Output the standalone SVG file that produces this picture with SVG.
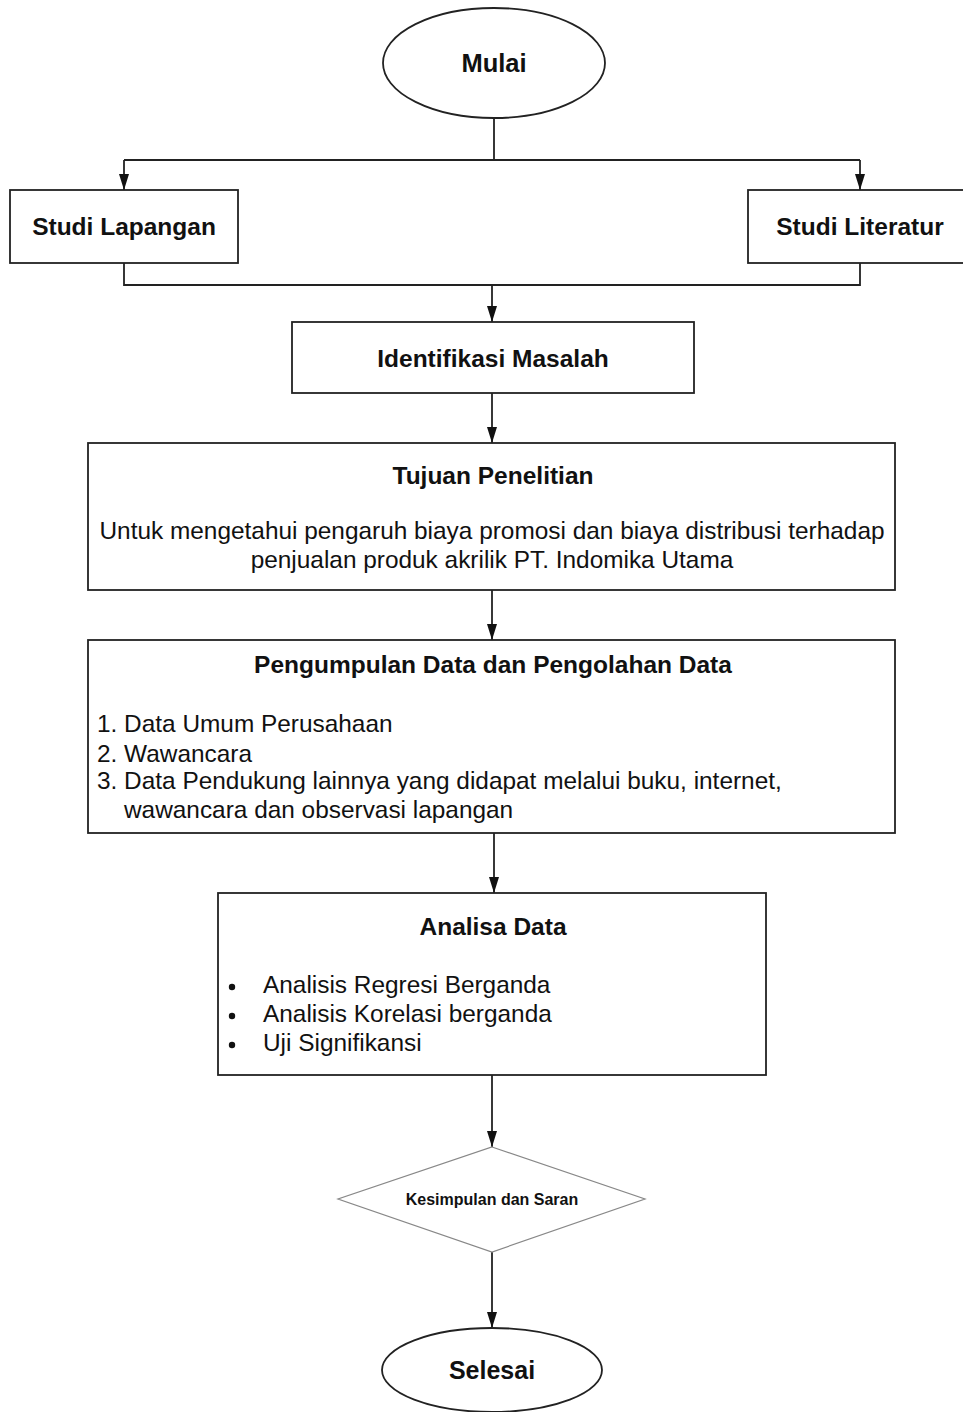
<svg xmlns="http://www.w3.org/2000/svg" width="963" height="1412" viewBox="0 0 963 1412">
<style>
.box{fill:#fff;stroke:#222;stroke-width:1.8}
.ln{fill:none;stroke:#222;stroke-width:1.8}
.dia{fill:#fff;stroke:#888;stroke-width:1.2}
.t{font-family:"Liberation Sans",Arial,sans-serif;font-weight:bold;font-size:24.5px;fill:#111;text-anchor:middle}
.b{font-family:"Liberation Sans",Arial,sans-serif;font-size:24.4px;fill:#111}
.s{font-family:"Liberation Sans",Arial,sans-serif;font-weight:bold;font-size:16px;fill:#111;text-anchor:middle}
</style>
<defs>
<marker id="ah" viewBox="0 0 16 10" refX="16" refY="5" markerWidth="16" markerHeight="10" markerUnits="userSpaceOnUse" orient="auto">
<path d="M0,0 L16,5 L0,10 z" fill="#111"/>
</marker>
</defs>
<rect width="963" height="1412" fill="#fff"/>
<g id="connectors">
<path class="ln" d="M494,118 V160 M124,160 H860"/>
<path class="ln" d="M124,160 V190" marker-end="url(#ah)"/>
<path class="ln" d="M860,160 V190" marker-end="url(#ah)"/>
<path class="ln" d="M124,263 V285 H860 V263"/>
<path class="ln" d="M492,285 V322" marker-end="url(#ah)"/>
<path class="ln" d="M492,393 V443" marker-end="url(#ah)"/>
<path class="ln" d="M492,590 V640" marker-end="url(#ah)"/>
<path class="ln" d="M494,833 V893" marker-end="url(#ah)"/>
<path class="ln" d="M492,1075 V1147" marker-end="url(#ah)"/>
<path class="ln" d="M492,1252 V1328" marker-end="url(#ah)"/>
</g>
<g id="mulai">
<ellipse class="box" cx="494" cy="63" rx="111" ry="55"/>
<text class="t" x="494" y="72" style="font-size:25.5px">Mulai</text>
</g>
<g id="studi-lapangan">
<rect class="box" x="10" y="190" width="228" height="73"/>
<text class="t" x="124" y="235">Studi Lapangan</text>
</g>
<g id="studi-literatur">
<rect class="box" x="748" y="190" width="225" height="73"/>
<text class="t" x="860" y="235">Studi Literatur</text>
</g>
<g id="identifikasi">
<rect class="box" x="292" y="322" width="402" height="71"/>
<text class="t" x="493" y="367">Identifikasi Masalah</text>
</g>
<g id="tujuan">
<rect class="box" x="88" y="443" width="807" height="147"/>
<text class="t" x="493" y="484">Tujuan Penelitian</text>
<text class="b" x="492" y="539" text-anchor="middle">Untuk mengetahui pengaruh biaya promosi dan biaya distribusi terhadap</text>
<text class="b" x="492" y="568" text-anchor="middle">penjualan produk akrilik PT. Indomika Utama</text>
</g>
<g id="pengumpulan">
<rect class="box" x="88" y="640" width="807" height="193"/>
<text class="t" x="493" y="673">Pengumpulan Data dan Pengolahan Data</text>
<text class="b" x="97" y="732">1. Data Umum Perusahaan</text>
<text class="b" x="97" y="762">2. Wawancara</text>
<text class="b" x="97" y="789">3. Data Pendukung lainnya yang didapat melalui buku, internet,</text>
<text class="b" x="124" y="818">wawancara dan observasi lapangan</text>
</g>
<g id="analisa">
<rect class="box" x="218" y="893" width="548" height="182"/>
<text class="t" x="493" y="935">Analisa Data</text>
<circle cx="232" cy="987" r="3.2" fill="#111"/>
<circle cx="232" cy="1016" r="3.2" fill="#111"/>
<circle cx="232" cy="1045" r="3.2" fill="#111"/>
<text class="b" x="263" y="993">Analisis Regresi Berganda</text>
<text class="b" x="263" y="1022">Analisis Korelasi berganda</text>
<text class="b" x="263" y="1051">Uji Signifikansi</text>
</g>
<g id="kesimpulan">
<polygon class="dia" points="492,1147 645,1199 492,1252 338,1199"/>
<text class="s" x="492" y="1205">Kesimpulan dan Saran</text>
</g>
<g id="selesai">
<ellipse class="box" cx="492" cy="1370" rx="110" ry="42"/>
<text class="t" x="492" y="1379" style="font-size:25px">Selesai</text>
</g>
</svg>
